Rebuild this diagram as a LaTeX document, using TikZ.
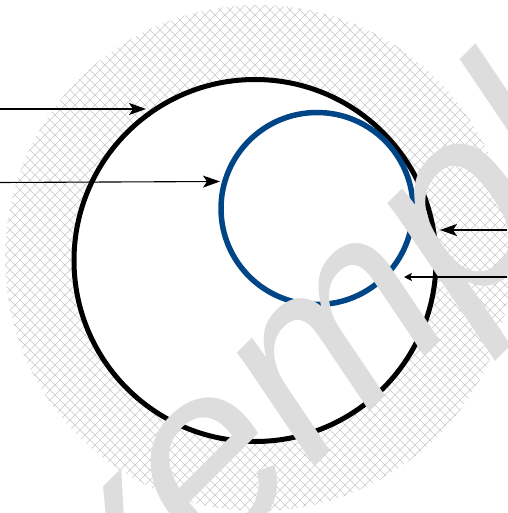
\documentclass[tikz,border=0pt]{standalone}
\usepackage{fontspec}
\newfontfamily\wmfont{Liberation Sans}
\usetikzlibrary{arrows.meta}
\definecolor{hatchgray}{RGB}{200,200,200}
\definecolor{wmgray}{RGB}{221,221,221}
\definecolor{ringblue}{RGB}{0,69,134}
\tikzset{
  hatchline/.style={hatchgray, line width=0.6pt},
  ring/.style={circle, draw=black, line width=5pt, fill=white, inner sep=0pt},
  bluering/.style={circle, draw=ringblue, line width=5.5pt, inner sep=0pt},
  pointer/.style={draw=black, line width=1.1pt, -{Stealth[length=17pt,width=12pt,inset=4pt]}},
  smallpointer/.style={draw=black, line width=1.1pt, -{Stealth[length=8pt,width=8pt,inset=2pt]}},
  watermark/.style={text=wmgray, inner sep=0pt, font=\wmfont\itshape\fontsize{255}{255}\selectfont}
}
\begin{document}
\begin{tikzpicture}[x=1pt,y=-1pt]
\useasboundingbox (0,0) rectangle (507,513);
% hatched disc
\begin{scope}
  \clip (258,258) circle[radius=253pt];
  \foreach \i in {-520,-510,...,1030} {
    \draw[hatchline] (\i,0) -- ++(520,520);
    \draw[hatchline] (\i,0) -- ++(-520,520);
  }
\end{scope}
% rings
\node[ring, minimum size=362pt] (outer) at (255,260.5) {};
\node[bluering, minimum size=192pt] (inner) at (317,208.5) {};
% watermark
\node[watermark, rotate=45, anchor=base west] (wm) at (21,760) {exemple};
% pointer ends
\coordinate (s1) at (0,109);
\coordinate (t1) at (146,109);
\coordinate (s2) at (0,182.5);
\coordinate (t2) at (220,181.5);
\coordinate (s3) at (507,230);
\coordinate (t3) at (440,230);
\coordinate (s4) at (507,277);
\coordinate (t4) at (404,277);
\draw[pointer] (s1) -- (t1);
\draw[pointer] (s2) -- (t2);
\draw[pointer] (s3) -- (t3);
\draw[smallpointer] (s4) -- (t4);
\end{tikzpicture}
\end{document}
